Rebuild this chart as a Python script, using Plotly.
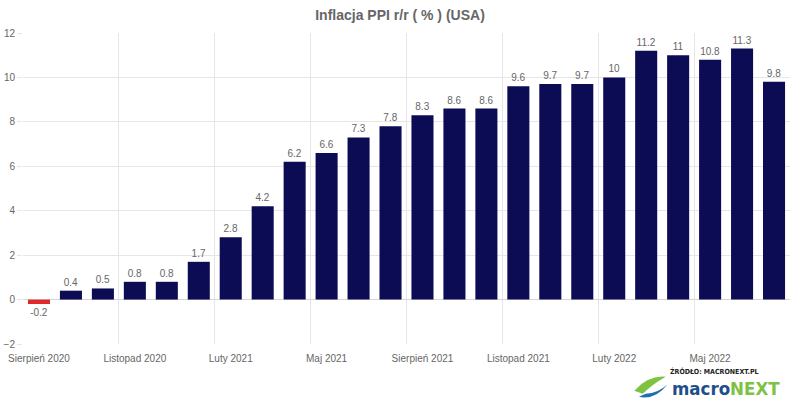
import plotly.graph_objects as go

months = ["Sierpień 2020", "Wrzesień 2020", "Październik 2020", "Listopad 2020",
          "Grudzień 2020", "Styczeń 2021", "Luty 2021", "Marzec 2021",
          "Kwiecień 2021", "Maj 2021", "Czerwiec 2021", "Lipiec 2021",
          "Sierpień 2021", "Wrzesień 2021", "Październik 2021", "Listopad 2021",
          "Grudzień 2021", "Styczeń 2022", "Luty 2022", "Marzec 2022",
          "Kwiecień 2022", "Maj 2022", "Czerwiec 2022", "Lipiec 2022"]
values = [-0.2, 0.4, 0.5, 0.8, 0.8, 1.7, 2.8, 4.2, 6.2, 6.6, 7.3, 7.8,
          8.3, 8.6, 8.6, 9.6, 9.7, 9.7, 10, 11.2, 11, 10.8, 11.3, 9.8]
label_step = 3

POS = "#0c0c55"
NEG = "#e0282b"
GRID = "#e6e6e6"
TXT = "#666666"
FONT = "Liberation Sans, Arial, sans-serif"

idx = list(range(len(months)))
tick_idx = idx[::label_step]
colors = [NEG if v < 0 else POS for v in values]

fig = go.Figure()
fig.add_trace(go.Bar(
    x=idx, y=values, marker=dict(color=colors, line=dict(width=0)),
    text=[f"{v:g}" for v in values], textposition="outside",
    textfont=dict(size=10, color=TXT, family=FONT),
    cliponaxis=False, hoverinfo="skip", showlegend=False,
))
# invisible helper trace on the grid axis (category boundaries)
fig.add_trace(go.Scatter(
    x=[tick_idx[0] - 0.5], y=[0], xaxis="x2", mode="markers",
    marker=dict(opacity=0), hoverinfo="skip", showlegend=False,
))

xr = [-0.5, len(months) - 0.5]
fig.update_layout(
    width=800, height=400,
    margin=dict(l=23, r=10, t=33, b=56),
    paper_bgcolor="white", plot_bgcolor="white",
    bargap=0.31,
    title=dict(text="<b>Inflacja PPI r/r ( % ) (USA)</b>", x=0.5, xanchor="center",
               y=0.962, yanchor="middle",
               font=dict(size=14, color=TXT, family=FONT)),
    font=dict(family=FONT, color=TXT),
    xaxis=dict(range=xr, tickmode="array", tickvals=tick_idx,
               ticktext=[months[i] for i in tick_idx], automargin=False,
               showgrid=False, zeroline=False, ticks="",
               tickfont=dict(size=10, color=TXT), ticklabelstandoff=7),
    xaxis2=dict(range=xr, overlaying="x", tickmode="array",
                tickvals=[i - 0.5 for i in tick_idx], automargin=False,
                showticklabels=False, showgrid=True, gridcolor=GRID, gridwidth=1,
                zeroline=False, ticks="", anchor="y"),
    yaxis=dict(range=[-2, 12], dtick=2, tick0=0, showgrid=True, gridcolor=GRID,
               zeroline=True, zerolinecolor="#d6d6d6", zerolinewidth=1,
               ticks="outside", ticklen=5, tickcolor=GRID, automargin=False,
               tickfont=dict(size=10, color=TXT)),
)

# source logo (text)
fig.add_annotation(text="<b>ŹRÓDŁO: MACRONEXT.PL</b>", xref="paper", yref="paper",
                   x=0.841, y=-0.088, xanchor="left", yanchor="middle", showarrow=False,
                   font=dict(size=7, color="#222222",
                             family="DejaVu Sans Condensed, " + FONT))
fig.add_annotation(text="<b><span style='color:#1d4f8c'>macro</span><span style='color:#7dc242'>NEXT</span></b>",
                   xref="paper", yref="paper", x=0.843, y=-0.143, xanchor="left",
                   yanchor="middle", showarrow=False,
                   font=dict(size=18.5, family="DejaVu Sans Condensed, " + FONT))
# swoosh icon
fig.add_shape(type="path", xref="paper", yref="paper",
              path="M 0.797 -0.150 Q 0.815 -0.100 0.838 -0.105 Q 0.820 -0.130 0.808 -0.160 Z",
              fillcolor="#7dc242", line=dict(width=0))
fig.add_shape(type="path", xref="paper", yref="paper",
              path="M 0.803 -0.170 Q 0.825 -0.180 0.840 -0.130 Q 0.828 -0.158 0.812 -0.160 Z",
              fillcolor="#1d6fb0", line=dict(width=0))

fig.write_html("out.html", config={"displayModeBar": False},
               post_script="document.body.style.margin='0';")
